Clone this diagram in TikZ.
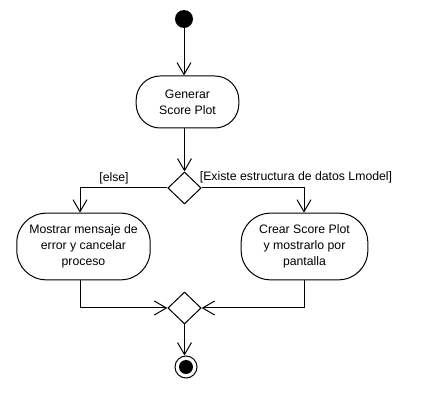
\documentclass[tikz,border=0pt]{standalone}
\usepackage{fontspec}
\setmainfont{Liberation Sans}
\usetikzlibrary{arrows.meta,shapes.geometric}
\begin{document}
\begin{tikzpicture}[x=0.75pt,y=-0.75pt,
  every node/.style={font=\fontsize{9.2pt}{12pt}\selectfont, inner sep=0pt},
  act/.style={draw, line width=0.75pt, rounded corners=18pt, fill=white, align=center},
  dec/.style={draw, diamond, line width=0.75pt, minimum width=25pt, minimum height=24pt, fill=white},
  flow/.style={line width=0.75pt, -{Straight Barb[length=9pt,width=10.5pt,line width=0.75pt]}},
  lbl/.style={anchor=base}]
\useasboundingbox (0,0) rectangle (426,410);
\node[circle, fill=black, minimum size=13.5pt] (start) at (184,19) {};
\node[act, minimum width=77pt, minimum height=39pt] (gen) at (187.5,102) {Generar\\Score Plot};
\node[dec] (d1) at (184.5,188) {};
\node[act, rounded corners=22pt, minimum width=100pt, minimum height=50pt] (err) at (83.5,246.5) {Mostrar mensaje de\\error y cancelar\\proceso};
\node[act, rounded corners=22pt, minimum width=95pt, minimum height=50pt] (crear) at (304.5,246.5) {Crear Score Plot\\y mostrarlo por\\pantalla};
\node[dec] (d2) at (184.5,308) {};
\node[circle, draw, line width=0.75pt, minimum size=16.5pt] (end) at (186,367) {};
\node[circle, fill=black, minimum size=10.5pt] at (end) {};
\node[lbl] (le) at (114,182) {[else]};
\node[lbl] (lx) at (296,181) {[Existe estructura de datos Lmodel]};
\draw[flow] (start) -- (start |- gen.north);
\draw[flow] (gen.south -| d1) -- (d1.north);
\draw[flow] (d1.west) -| (err.north -| 80,0);
\draw[flow] (d1.east) -| (crear.north -| 304,0);
\draw[flow] (err.south -| 80,0) |- (d2.west);
\draw[flow] (crear.south -| 304,0) |- (d2.east);
\draw[flow] (d2.south) -- (d2.south |- end.north);
\end{tikzpicture}
\end{document}
